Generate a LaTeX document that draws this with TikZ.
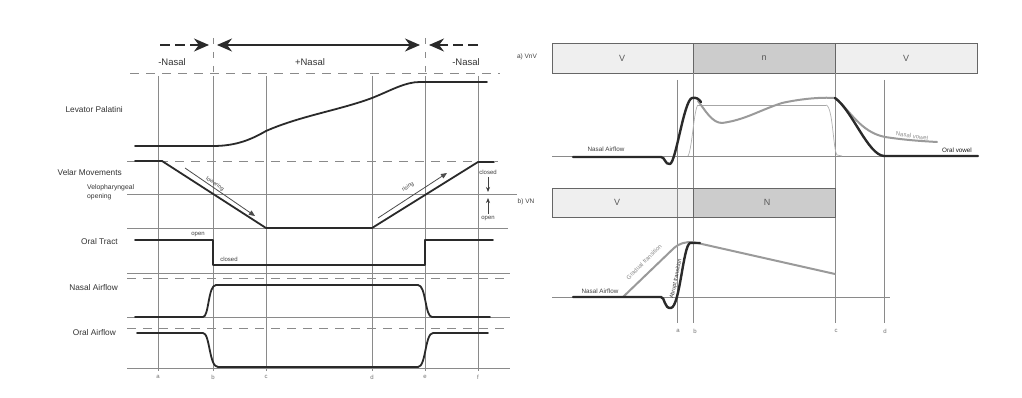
\documentclass[tikz,border=0pt]{standalone}
\usepackage{fontspec}
\setmainfont{Liberation Sans}
\usetikzlibrary{arrows.meta}
\definecolor{gridc}{HTML}{8A8A8A}
\definecolor{curvec}{HTML}{2A2A2A}
\definecolor{lightbar}{HTML}{EFEFEF}
\definecolor{darkbar}{HTML}{CCCCCC}
\definecolor{midgray}{HTML}{9A9A9A}
\tikzset{
  grid line/.style={draw=gridc, line width=0.6pt},
  dash line/.style={draw=gridc, line width=0.7pt, dash pattern=on 9pt off 7pt},
  curve/.style={draw=curvec, line width=1.8pt, line join=round, line cap=round},
  thick curve/.style={draw=curvec, line width=2.4pt, line join=round, line cap=round},
  gray curve/.style={draw=midgray, line width=2pt, line join=round, line cap=round},
  rowlabel/.style={font=\fontsize{8.3}{9}\selectfont, text=black!80, anchor=east, inner sep=0pt},
  tinylabel/.style={font=\fontsize{6}{7}\selectfont, text=black!75, inner sep=0pt},
  letterlabel/.style={font=\fontsize{6}{7}\selectfont, text=black!55, inner sep=0pt},
  nasallabel/.style={font=\fontsize{9.5}{10}\selectfont, text=black!80, inner sep=0pt},
  barbox/.style={draw=black!60, line width=0.9pt},
  bartext/.style={font=\fontsize{9}{10}\selectfont, text=black!65},
  bigarrow/.style={draw=curvec, line width=1.6pt, -{Stealth[length=15pt,width=13pt]}},
  smallarrow/.style={draw=black!75, line width=0.7pt, -{Stealth[length=5pt,width=4pt]}}
}
\begin{document}
\begin{tikzpicture}[x=1pt,y=-1pt]
\useasboundingbox (0,0) rectangle (1022,398);
\fill[white] (0,0) rectangle (1022,398);

% ===================== LEFT PANEL =====================
\foreach \xx/\nm in {158/a,213/b,266/c,372/d,425/e,478/f}{
  \draw[grid line] (\xx,76) -- (\xx,371);
  \node[letterlabel] (lt\nm) at (\xx,377) {\nm};
}
\draw[grid line, dash pattern=on 6pt off 8pt] (213,38) -- (213,73);
\draw[grid line, dash pattern=on 6pt off 8pt] (425,38) -- (425,73);
\draw[dash line] (130,73) -- (500,73);

% nasal arrows
\coordinate (la1) at (160,45); \coordinate (la2) at (209,45);
\coordinate (ma1) at (217,45); \coordinate (ma2) at (420,45);
\coordinate (ra1) at (478,45); \coordinate (ra2) at (429,45);
\draw[bigarrow, dash pattern=on 10pt off 5pt] (la1) -- (la2);
\draw[bigarrow, {Stealth[length=15pt,width=13pt]}-{Stealth[length=15pt,width=13pt]}] (ma1) -- (ma2);
\draw[bigarrow, dash pattern=on 10pt off 5pt] (ra1) -- (ra2);
\node[nasallabel] (n1) at (172,62) {-Nasal};
\node[nasallabel] (n2) at (310,62) {+Nasal};
\node[nasallabel] (n3) at (466,62) {-Nasal};

% Levator Palatini
\node[rowlabel] (lp) at (123,110) {Levator Palatini};
\draw[curve] (135,146) -- (213,146) .. controls (237,146) and (252,139) .. (266,131)
  .. controls (300,116) and (340,110) .. (372,98) .. controls (392,90) and (405,82) .. (420,82) -- (487,82);

% Velar movements
\node[rowlabel] (vm) at (122,173) {Velar Movements};
\node[font=\fontsize{6.8}{7}\selectfont, text=black!80, anchor=north west, align=left, inner sep=0pt] (vo) at (87,184) {Velopharyngeal\\[2pt]opening};
\draw[dash line] (127,161) -- (498,161);
\draw[grid line] (127,194) -- (517,194);
\draw[grid line] (127,228) -- (508,228);
\draw[curve] (135,161) -- (162,161) -- (266,228) -- (372,228) -- (478,162) -- (494,162);
\coordinate (s1a) at (185,168); \coordinate (s1b) at (255,216);
\coordinate (s2a) at (378,218); \coordinate (s2b) at (447,173);
\draw[draw=black!70, line width=0.8pt, -{Triangle[length=6pt,width=5pt]}] (s1a) -- (s1b);
\draw[draw=black!70, line width=0.8pt, -{Triangle[length=6pt,width=5pt]}] (s2a) -- (s2b);
\node[tinylabel, font=\fontsize{5.5}{6}\selectfont, rotate=-34] (low) at (215,184) {lowering};
\node[tinylabel, font=\fontsize{5.5}{6}\selectfont, rotate=33] (ris) at (408,187) {rising};
\node[tinylabel] (cl) at (488,172) {closed};
\node[tinylabel] (op) at (488,219) {open};
\coordinate (ca1) at (488,177); \coordinate (ca2) at (488,192);
\coordinate (oa1) at (488,214); \coordinate (oa2) at (488,198);
\draw[smallarrow] (ca1) -- (ca2);
\draw[smallarrow] (oa1) -- (oa2);

% Oral Tract
\node[rowlabel] (ot) at (118,242) {Oral Tract};
\draw[curve] (135,240) -- (213,240) -- (213,265) -- (425,265) -- (425,240) -- (493,240);
\node[tinylabel] (otop) at (198,235) {open};
\node[tinylabel] (otcl) at (229,259) {closed};
\draw[grid line] (127,273) -- (510,273);
\draw[dash line] (127,278) -- (510,278);

% Nasal Airflow
\node[rowlabel] (na) at (118,288) {Nasal Airflow};
\draw[grid line] (127,317) -- (510,317);
\draw[curve] (135,317) -- (203,317) .. controls (209,317) and (208,285) .. (216,285) -- (418,285)
  .. controls (426,285) and (425,317) .. (432,317) -- (490,317);
\draw[dash line] (127,328) -- (510,328);

% Oral Airflow
\node[rowlabel] (oa) at (116,333) {Oral Airflow};
\draw[grid line] (127,368) -- (510,368);
\draw[curve] (137,333) -- (203,333) .. controls (210,333) and (209,367) .. (218,367) -- (418,367)
  .. controls (426,367) and (425,333) .. (433,333) -- (488,333);

% ===================== RIGHT PANEL =====================
\node[tinylabel, font=\fontsize{6.5}{7}\selectfont] (la) at (527,57) {a) VnV};
\draw[barbox, fill=lightbar] (552,43) rectangle (693,73);
\draw[barbox, fill=darkbar] (693,43) rectangle (835,73);
\draw[barbox, fill=lightbar] (835,43) rectangle (977,73);
\node[bartext] (v1) at (622,58) {V};
\node[bartext] (nn) at (764,58) {n};
\node[bartext] (v2) at (906,58) {V};

\draw[grid line] (677,80) -- (677,323);
\draw[grid line] (693,73) -- (693,323);
\draw[grid line] (835,73) -- (835,323);
\draw[grid line] (884,80) -- (884,323);
\node[letterlabel] (ra) at (678,331) {a};
\node[letterlabel] (rb) at (695,331) {b};
\node[letterlabel] (rc) at (836,331) {c};
\node[letterlabel] (rd) at (885,331) {d};

% top plot
\draw[grid line] (552,156) -- (978,156);
\draw[draw=black!35, line width=0.6pt] (697,105) -- (826,105);
\draw[draw=black!30, line width=0.7pt] (688,156) .. controls (692,150) and (694,108) .. (698,105);
\draw[draw=black!30, line width=0.7pt] (826,105) .. controls (833,106) and (833,150) .. (837,155) -- (842,156);
\draw[gray curve] (698,101) .. controls (705,110) and (712,123) .. (722,123)
  .. controls (745,120) and (760,110) .. (782,103) .. controls (800,99) and (820,97) .. (835,98)
  .. controls (850,110) and (860,132) .. (885,137) .. controls (905,140) and (920,141) .. (937,142);
\draw[thick curve] (573,157) -- (661,157) .. controls (665,157) and (665,165) .. (670,164)
  .. controls (676,162) and (684,100) .. (692,98) .. controls (696,97) and (699,99) .. (701,102);
\draw[thick curve] (835,98) .. controls (852,110) and (868,155) .. (884,156) -- (978,156);
\node[tinylabel, font=\fontsize{6.3}{7}\selectfont] (naf1) at (606,149) {Nasal Airflow};
\node[tinylabel, text=black!45, rotate=-8] (nv) at (912,136) {Nasal vowel};
\node[tinylabel, text=black!90, font=\fontsize{6.3}{7}\selectfont] (ov) at (957,150) {Oral vowel};

% bar b
\node[tinylabel, font=\fontsize{6.5}{7}\selectfont] (lb) at (526,202) {b) VN};
\draw[barbox, fill=lightbar] (552,188) rectangle (693,217);
\draw[barbox, fill=darkbar] (693,188) rectangle (835,217);
\node[bartext] (v3) at (617,202) {V};
\node[bartext] (nN) at (767,202) {N};
\draw[grid line] (677,188) -- (677,217);

% bottom plot
\draw[grid line] (552,297) -- (890,297);
\draw[gray curve] (623,297) -- (674,248) .. controls (680,243) and (685,242) .. (693,242) -- (835,274);
\draw[thick curve] (573,297) -- (661,297) .. controls (665,297) and (664,309) .. (671,308)
  .. controls (680,306) and (683,246) .. (690,243) -- (700,243);
\node[tinylabel, font=\fontsize{6.3}{7}\selectfont] (naf2) at (600,291) {Nasal Airflow};
\node[tinylabel, text=black!45, rotate=45] (gt) at (644,262) {Gradual transition};
\node[tinylabel, text=black!80, rotate=78, font=\fontsize{5.5}{6}\selectfont] (at) at (676,279) {Abrupt transition};
\end{tikzpicture}
\end{document}
